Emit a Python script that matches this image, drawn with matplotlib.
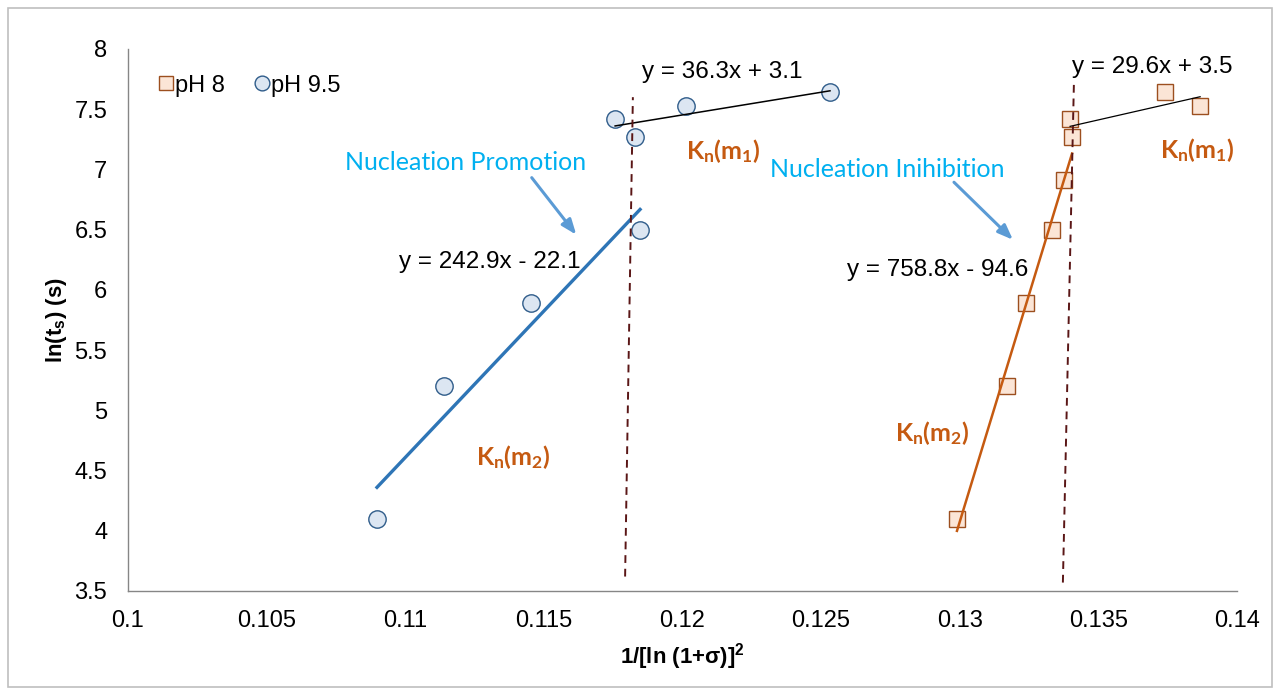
import numpy as np
import matplotlib
matplotlib.use("Agg")
import matplotlib.pyplot as plt
from matplotlib.patches import Rectangle

# --- Data ---
x_ph95 = [0.10898, 0.11140, 0.11454, 0.11847, 0.11757, 0.11829, 0.12013, 0.12532]
y_ph95 = [4.10, 5.20, 5.89, 6.50, 7.42, 7.27, 7.53, 7.64]
x_ph8 = [0.12990, 0.13170, 0.13239, 0.13333, 0.13376, 0.13398, 0.13405, 0.13740, 0.13867]
y_ph8 = [4.10, 5.20, 5.89, 6.50, 6.91, 7.42, 7.27, 7.64, 7.53]

# which points go into which trend line
fit95_low, fit95_high = [0, 1, 2, 3], [4, 5, 6, 7]
fit8_low, fit8_high = [0, 1, 2, 3, 4, 6], [5, 6, 7, 8]

eq95_low, eq95_high = "y = 242.9x - 22.1", "y = 36.3x + 3.1"
eq8_low, eq8_high = "y = 758.8x - 94.6", "y = 29.6x + 3.5"

# dashed separators ([x bottom, x top], [y bottom, y top])
sep1 = ([0.11793, 0.11821], [3.62, 7.60])
sep2 = ([0.13372, 0.13412], [3.57, 7.74])

# --- Fonts ---
plt.rcParams['font.family'] = ['Liberation Sans', 'DejaVu Sans']
plt.rcParams['mathtext.fontset'] = 'custom'
plt.rcParams['mathtext.rm'] = 'Liberation Sans'
plt.rcParams['mathtext.bf'] = 'Liberation Sans:bold'
plt.rcParams['mathtext.sf'] = 'Lato:bold'

FS = 17
orange = "#c55a11"
light_blue = "#00b0f0"
arrow_col = "#5b9bd5"

fig = plt.figure(figsize=(12.8, 6.95), dpi=100)
ax = fig.add_axes([128/1280, 1-591/695, (1237-128)/1280, (591-49)/695])

# border around the whole chart
fig.patches.append(Rectangle((8/1280, 8/695), 1264/1280, 679/695, transform=fig.transFigure,
                             fill=False, edgecolor="#bfbfbf", linewidth=1.2))


def trend(xs, ys, idx):
    xa, ya = np.array(xs)[idx], np.array(ys)[idx]
    c = np.polyfit(xa, ya, 1)
    xx = np.array([xa.min(), xa.max()])
    return xx, np.polyval(c, xx)


# trend lines
xx, yy = trend(x_ph95, y_ph95, fit95_low)
ax.plot(xx, yy, color="#2e75b6", lw=2.4, zorder=2)
xx, yy = trend(x_ph95, y_ph95, fit95_high)
ax.plot(xx, yy, color="black", lw=1.1, zorder=4)
xx, yy = trend(x_ph8, y_ph8, fit8_low)
ax.plot(xx, yy, color=orange, lw=1.8, zorder=4)
xx, yy = trend(x_ph8, y_ph8, fit8_high)
ax.plot(xx, yy, color="black", lw=0.9, zorder=4)

# separators
ax.plot(*sep1, color="#5a1616", lw=1.4, ls=(0, (4, 3)), zorder=5)
ax.plot(*sep2, color="#5a1616", lw=1.4, ls=(0, (4, 3)), zorder=5)

# markers
ax.plot(x_ph8, y_ph8, ls="none", marker="s", ms=11.5, mfc="#fbe5d6", mec="#9c4f1f",
        mew=1.0, zorder=3, label="pH 8")
ax.plot(x_ph95, y_ph95, ls="none", marker="o", ms=12.5, mfc="#dce6f2", mec="#2f5c8a",
        mew=1.0, zorder=3, label="pH 9.5")

ax.set_xlim(0.1, 0.14)
ax.set_ylim(3.5, 8)
ax.set_xticks(np.arange(0.1, 0.1401, 0.005))
ax.set_xticklabels(["0.1", "0.105", "0.11", "0.115", "0.12", "0.125", "0.13", "0.135", "0.14"])
ax.set_yticks(np.arange(3.5, 8.01, 0.5))
ax.set_yticklabels(["3.5", "4", "4.5", "5", "5.5", "6", "6.5", "7", "7.5", "8"])
ax.tick_params(length=0, labelsize=FS, pad=14)
ax.tick_params(axis='y', pad=15)
for s in ["top", "right"]:
    ax.spines[s].set_visible(False)
for s in ["left", "bottom"]:
    ax.spines[s].set_color("#868686")
    ax.spines[s].set_linewidth(1.0)

ax.set_xlabel(r"1/[ln (1+σ)]$^\mathbf{2}$", fontsize=16, fontweight="bold", labelpad=6)
ax.set_ylabel(r"ln(t$_\mathbf{s}$) (s)", fontsize=16, fontweight="bold", labelpad=4)

# legend
leg = ax.legend(loc="upper left", bbox_to_anchor=(0.013, 0.983), frameon=False, ncol=2,
                fontsize=FS, handlelength=0.6, handletextpad=0.1, columnspacing=1.25,
                borderaxespad=0.3, markerscale=0.85)

# equations
ax.text(0.12142, 7.81, eq95_high, fontsize=17.5, ha="center", va="center")
ax.text(0.13693, 7.85, eq8_high, fontsize=17.5, ha="center", va="center")
ax.text(0.11306, 6.23, eq95_low, fontsize=17.5, ha="center", va="center")
ax.text(0.12922, 6.165, eq8_low, fontsize=17.5, ha="center", va="center")

# annotations
ax.text(0.11219, 7.06, "Nucleation Promotion", fontsize=18, color=light_blue,
        family="Lato", ha="center", va="center")
ax.text(0.12738, 7.00, "Nucleation Inihibition", fontsize=18, color=light_blue,
        family="Lato", ha="center", va="center")
ax.annotate("", xy=(0.11623, 6.44), xytext=(0.11450, 6.95),
            arrowprops=dict(arrowstyle="-|>,head_length=0.9,head_width=0.35", color=arrow_col, lw=2.2))
ax.annotate("", xy=(0.13199, 6.40), xytext=(0.12972, 6.91),
            arrowprops=dict(arrowstyle="-|>,head_length=0.9,head_width=0.35", color=arrow_col, lw=2.2))

kn1 = r"$\mathsf{K_n(m_1)}$"
kn2 = r"$\mathsf{K_n(m_2)}$"
ax.text(0.12146, 7.15, kn1, fontsize=18, color=orange, ha="center", va="center")
ax.text(0.13856, 7.16, kn1, fontsize=18, color=orange, ha="center", va="center")
ax.text(0.11389, 4.61, kn2, fontsize=18, color=orange, ha="center", va="center")
ax.text(0.12900, 4.81, kn2, fontsize=18, color=orange, ha="center", va="center")

fig.savefig("out.png", dpi=100)
